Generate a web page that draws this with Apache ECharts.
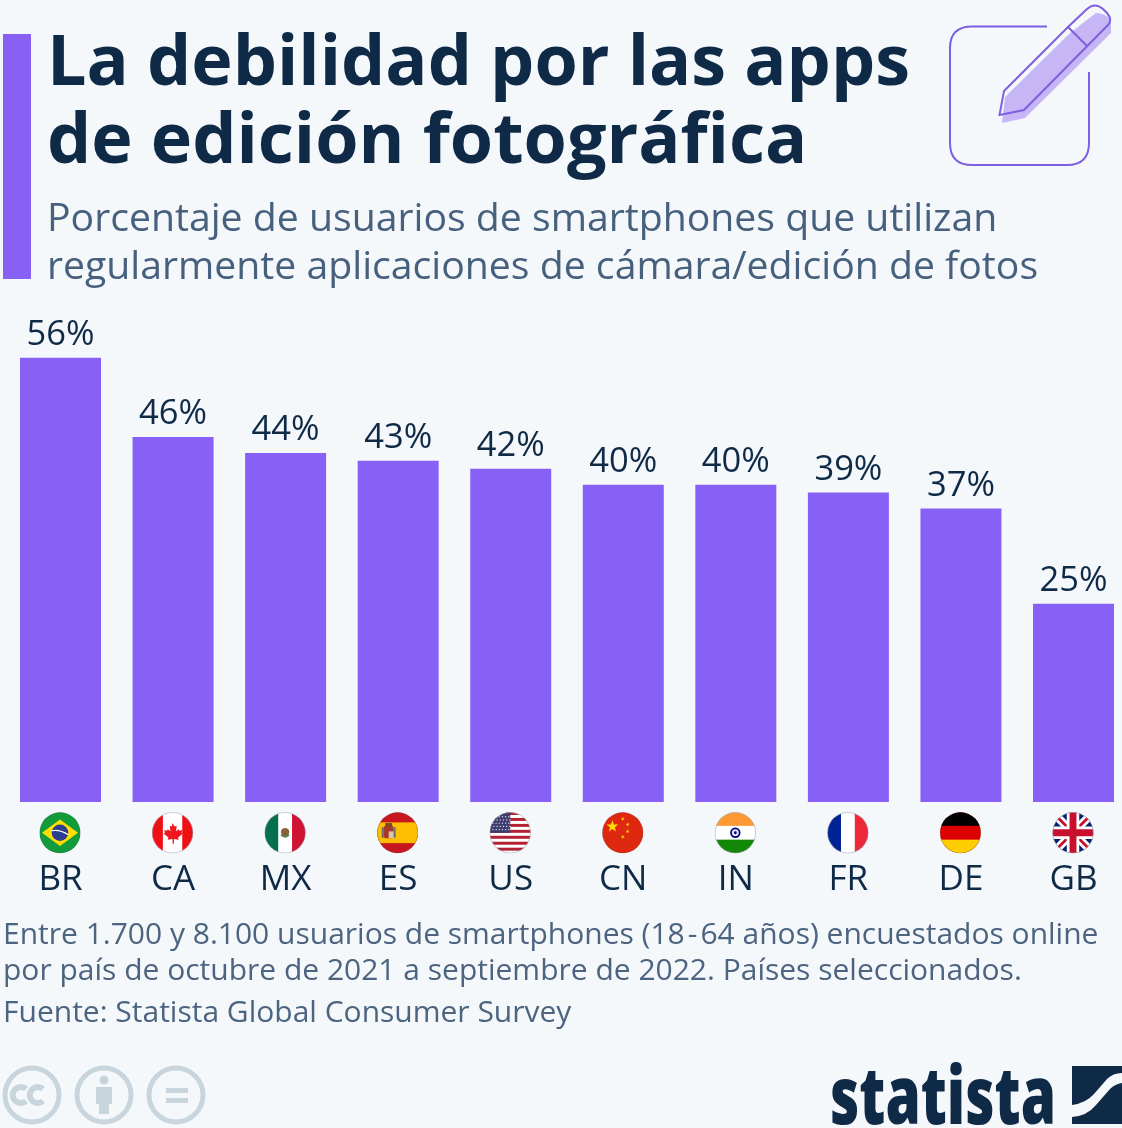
<!DOCTYPE html>
<html><head><meta charset="utf-8">
<style>html,body{margin:0;padding:0;background:#f5f8fb}#c{width:1122px;height:1128px}</style>
<script src="https://cdn.jsdelivr.net/npm/echarts@6/dist/echarts.min.js"></script></head>
<body><div id="c"></div>
<script>
const categories=['BR','CA','MX','ES','US','CN','IN','FR','DE','GB'];
const values=[56,46,44,43,42,40,40,39,37,25];
const titleLines=['La debilidad por las apps','de edición fotográfica'];
const subtitleLines=['Porcentaje de usuarios de smartphones que utilizan','regularmente aplicaciones de cámara/edición de fotos'];
const noteLines=['Entre 1.700 y 8.100 usuarios de smartphones (18\u200a-\u200a64 años) encuestados online','por país de octubre de 2021 a septiembre de 2022. Países seleccionados.'];
const sourceLine='Fuente: Statista Global Consumer Survey';

const ink='#0f2a47', slate='#46607d', note='#4c647f', purple='#8760f5', lav='#c6b6f6', line='#7d5fe0', cc='#c9d5dd', bg='#f5f8fb';

function star(cx,cy,r,fill,rot){let p=[];for(let i=0;i<10;i++){const a=(rot||0)-Math.PI/2+i*Math.PI/5,q=i%2?r*0.4:r;p.push((cx+q*Math.cos(a)).toFixed(2)+','+(cy+q*Math.sin(a)).toFixed(2));}return `<polygon points="${p.join(' ')}" fill="${fill}"/>`;}
function usa(){let s='<rect width="60" height="60" fill="#fff"/>';for(let i=0;i<7;i++)s+=`<rect y="${i*8.6}" width="60" height="4.3" fill="#b22234"/>`;s+='<rect width="30" height="30.1" fill="#3c3b6e"/>';for(let r=0;r<5;r++)for(let c=0;c<6;c++)s+=star(5+c*4.6+(r%2)*1.5,7+r*4.6,1.5,'#fff');return s;}
const flagArt={
BR:'<rect width="60" height="60" fill="#129b3a"/><polygon points="4,30 30,11 56,30 30,49" fill="#fedf00"/><circle cx="30" cy="30" r="12" fill="#2a3f8f"/><path d="M18 27q12-2 24 6" stroke="#fff" stroke-width="1.6" fill="none"/>',
CA:'<rect width="60" height="60" fill="#fff"/><rect width="16" height="60" fill="#f00f14"/><rect x="44" width="16" height="60" fill="#f00f14"/><path d="M30 16l3 5 3-1-1 8 4-3 1 2 4-1-1 4 2 1-7 6 1 3-7-1v7h-2v-7l-7 1 1-3-7-6 2-1-1-4 4 1 1-2 4 3-1-8 3 1z" fill="#ef1620"/>',
MX:'<rect width="60" height="60" fill="#fff"/><rect width="20" height="60" fill="#066f4e"/><rect x="40" width="20" height="60" fill="#cf1333"/><circle cx="30" cy="29" r="6" fill="#8a6136"/><path d="M24 33q6 6 12 0" stroke="#3d8a4c" stroke-width="2" fill="none"/>',
ES:'<rect width="60" height="60" fill="#c8171e"/><rect y="15" width="60" height="30" fill="#fdbd00"/><rect x="10" y="20" width="14" height="18" rx="3" fill="#a5382a"/><rect x="12" y="16" width="10" height="5" fill="#7a4a1e"/><rect x="7" y="22" width="3" height="15" fill="#6b6b6b"/><rect x="24" y="22" width="3" height="15" fill="#6b6b6b"/><rect x="17" y="28" width="7" height="10" fill="#d9c7a0"/>',
US:usa(),
CN:'<rect width="60" height="60" fill="#de2910"/>'+star(15,21,9,'#ffde00')+star(30,10,3,'#ffde00',.6)+star(37,18,3,'#ffde00',.9)+star(37,28,3,'#ffde00',0)+star(30,36,3,'#ffde00',.6),
IN:'<rect width="60" height="60" fill="#fff"/><rect width="60" height="20" fill="#ff9933"/><rect y="40" width="60" height="20" fill="#138808"/><circle cx="30" cy="30" r="7.5" fill="#000080"/><circle cx="30" cy="30" r="5" fill="#dfe3f6"/><circle cx="30" cy="30" r="2" fill="#000080"/>',
FR:'<rect width="60" height="60" fill="#fff"/><rect width="20" height="60" fill="#002395"/><rect x="40" width="20" height="60" fill="#ed2939"/>',
DE:'<rect width="60" height="60" fill="#dd0000"/><rect width="60" height="20" fill="#000"/><rect y="40" width="60" height="20" fill="#ffce00"/>',
GB:'<rect width="60" height="60" fill="#012169"/><path d="M0 0L60 60M60 0L0 60" stroke="#fff" stroke-width="12"/><path d="M0 0L60 60M60 0L0 60" stroke="#c8102e" stroke-width="4"/><path d="M30 0V60M0 30H60" stroke="#fff" stroke-width="18"/><path d="M30 0V60M0 30H60" stroke="#c8102e" stroke-width="10"/>'
};
const lightFlags={CA:1,MX:1,IN:1,FR:1,US:1,GB:1};
const uri=svg=>'data:image/svg+xml;charset=utf-8,'+encodeURIComponent(svg);
function flagURI(k){
 const ring=lightFlags[k]?'#9aa3ad':'rgba(60,60,60,.35)';
 return uri(`<svg xmlns="http://www.w3.org/2000/svg" width="84" height="84" viewBox="0 0 60 60"><defs><clipPath id="a"><circle cx="30" cy="30" r="29.5"/></clipPath></defs><g clip-path="url(#a)">${flagArt[k]}</g><circle cx="30" cy="30" r="29.3" fill="none" stroke="${ring}" stroke-width="0.8"/></svg>`);
}
const flags=categories.map(flagURI);

const art=uri(`<svg xmlns="http://www.w3.org/2000/svg" width="1122" height="1128" viewBox="0 0 1122 1128">
<path d="M1002 123L1025 118L1111 33V20Q1105 13 1096 13L1070 33L1005 97Z" fill="${lav}"/>
<path d="M1047 26.5H972Q950 26.5 950 48V143Q950 165 972 165H1067Q1089 165 1089 143V72" fill="none" stroke="${line}" stroke-width="2"/>
<path d="M1004 91L1068 27L1087 9Q1095 2 1103 9L1107 13Q1113 20 1108 25L1024 110L999.5 115Z" fill="none" stroke="${line}" stroke-width="2"/>
<path d="M1068 27L1087 46" stroke="${line}" stroke-width="2"/>
<g fill="none" stroke="${cc}" stroke-width="5"><circle cx="32" cy="1095" r="27"/><circle cx="104" cy="1095" r="27"/><circle cx="176" cy="1095" r="27"/>
<path d="M29 1089a8 8 0 1 0 0 12M46 1089a8 8 0 1 0 0 12" stroke-width="6" transform="translate(-3 0)"/></g>
<circle cx="104" cy="1080" r="4.5" fill="${cc}"/><path d="M96 1087H112V1104H109V1114H99V1104H96Z" fill="${cc}"/>
<rect x="166" y="1088" width="22" height="5" fill="${cc}"/><rect x="166" y="1098" width="22" height="5" fill="${cc}"/>
<rect x="1072" y="1066" width="50" height="58" fill="${ink}"/>
<path d="M1072 1105Q1086 1103 1094 1094Q1101 1086 1107 1079Q1113 1073 1122 1073V1083Q1115 1084 1110 1089Q1103 1097 1096 1105Q1087 1116 1072 1117Z" fill="${bg}"/>
</svg>`);

const chart=echarts.init(document.getElementById('c'),null,{renderer:'canvas'});
const FF='"Open Sans"';
function txt(x,y,text,size,weight,fill,extra){return Object.assign({type:'text',x:x,y:y,silent:true,style:{text:text,font:`${weight} ${size}px ${FF}`,fill:fill}},extra||{});}
const logoFont=`800 80px ${FF}`;
const mctx=document.createElement('canvas').getContext('2d');mctx.font=logoFont;
const logoScale=226/mctx.measureText('statista').width;
const graphics=[
 {type:'rect',shape:{x:3,y:34,width:28,height:245},style:{fill:purple},silent:true},
 {type:'image',silent:true,style:{image:art,x:0,y:0,width:1122,height:1128}},
 txt(47,30,titleLines[0],70,700,ink),
 txt(47,108,titleLines[1],70,700,ink),
 txt(47,200,subtitleLines[0],39.2,400,slate),
 txt(47,248,subtitleLines[1],39.2,400,slate),
 txt(3,920,noteLines[0],30,400,note),
 txt(3,956,noteLines[1],30,400,note),
 txt(3,998,sourceLine,30,400,note),
 txt(830,1061,'statista',80,800,ink,{scaleX:logoScale})
];

chart.setOption({
 animation:false,
 backgroundColor:bg,
 textStyle:{fontFamily:FF},
 grid:{left:60.5,width:1013,top:326,height:476},
 xAxis:{type:'category',boundaryGap:false,data:categories,axisTick:{show:false},axisLine:{show:false},
   axisLabel:{interval:0,margin:61,fontSize:35,color:ink,fontFamily:FF}},
 yAxis:{type:'value',min:0,max:60,show:false,splitLine:{show:false}},
 series:[
  {type:'bar',data:values,barWidth:81,clip:false,itemStyle:{color:purple},
   label:{show:true,position:'top',distance:5,fontSize:34.5,color:ink,fontFamily:FF,formatter:p=>p.value+'%'}},
  {type:'custom',data:categories.map((c,i)=>[i,0]),clip:false,silent:true,
   encode:{x:0,y:1},
   renderItem:(params,api)=>{const pt=api.coord([api.value(0),0]);const d=41.5;
    return {type:'image',style:{image:flags[params.dataIndex],x:pt[0]-d/2-0.5,y:pt[1]+10,width:d,height:d}};}}
 ],
 graphic:graphics
});
</script></body></html>
